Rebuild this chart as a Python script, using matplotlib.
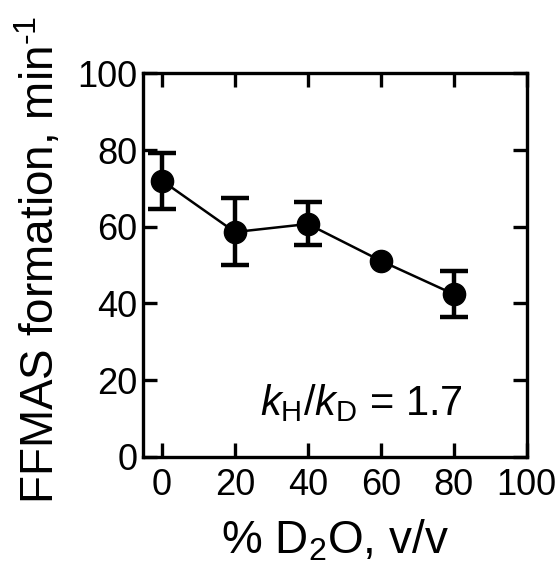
import numpy as np
import matplotlib.pyplot as plt

plt.rcParams['font.family'] = ['Liberation Sans', 'DejaVu Sans']
plt.rcParams['mathtext.fontset'] = 'custom'
plt.rcParams['mathtext.rm'] = 'Liberation Sans'
plt.rcParams['mathtext.it'] = 'Liberation Sans:italic'

# data (no visible error bar at 60 %)
d2o = [0, 20, 40, 60, 80]
rate = [72.0, 58.6, 60.7, 51.1, 42.4]
err_lo = [7.4, 8.7, 5.5, np.nan, 6.0]
err_hi = [7.3, 9.0, 5.7, np.nan, 6.1]

xticks = [0, 20, 40, 60, 80, 100]
yticks = [0, 20, 40, 60, 80, 100]

fig = plt.figure(figsize=(5.6, 5.76), dpi=100)
ax = fig.add_axes([0.2548, 0.2071, 0.6857, 0.6656])

ax.errorbar(d2o, rate, yerr=[err_lo, err_hi], fmt='o-', color='black',
            markersize=16, linewidth=1.8, elinewidth=3.2, capsize=10, capthick=3.2)

ax.set_xlim(-5.3, 100)
ax.set_ylim(0, 100)
ax.set_xticks(xticks)
ax.set_yticks(yticks)
ax.tick_params(direction='in', length=10, width=2.4, labelsize=26,
               top=True, right=True)
ax.tick_params(axis='x', pad=8)
ax.tick_params(axis='y', pad=4)
for s in ax.spines.values():
    s.set_linewidth(2.4)

ax.set_xlabel('% D$_2$O, v/v', fontsize=33)
ax.set_ylabel('FFMAS formation, min$^{\\text{-1}}$', fontsize=33)
ax.xaxis.set_label_coords(0.5, -0.16)
ax.yaxis.set_label_coords(-0.205, 0.513)
ax.text(82.5, 10.9, '$\\mathit{k}_{\\mathrm{H}}$/$\\mathit{k}_{\\mathrm{D}}$ = 1.7',
        fontsize=30, ha='right', va='baseline')

fig.savefig('out.png', dpi=100)
